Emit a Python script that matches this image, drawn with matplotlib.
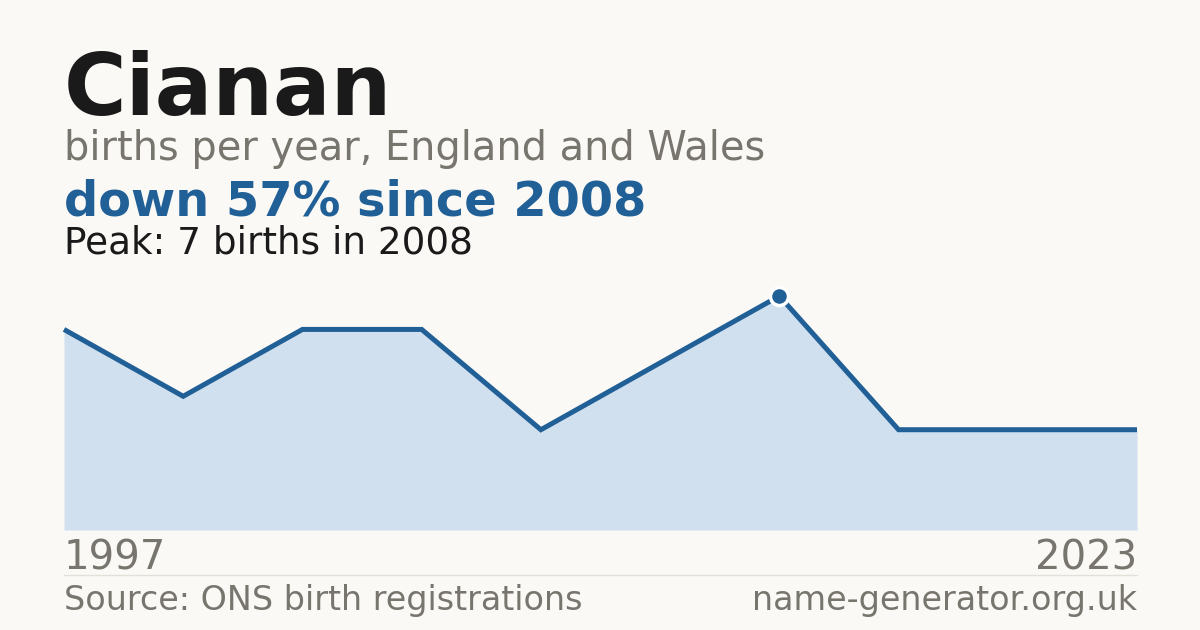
import matplotlib
matplotlib.use("Agg")
import matplotlib.pyplot as plt
from matplotlib.lines import Line2D

# Data (points evenly spaced along the axis)
years = [1997, 1999, 2001, 2003, 2005, 2007, 2008, 2012, 2018, 2023]
births = [6, 4, 6, 6, 3, 5, 7, 3, 3, 3]
name = "Cianan"
subtitle = "births per year, England and Wales"
headline = "down 57% since 2008"
peak_text = "Peak: 7 births in 2008"
source = "Source: ONS birth registrations"
site = "name-generator.org.uk"

BG = "#faf9f5"
BLUE = "#216097"
FILL = "#d0e0ef"
DARK = "#1a1a1a"
GRAY = "#78746e"

plt.rcParams['font.family'] = ['DejaVu Sans']

W, H = 1200, 630
fig = plt.figure(figsize=(12, 6.3), dpi=100, facecolor=BG)

def fy(py):
    return 1 - py / H

x = list(range(len(years)))
ax = fig.add_axes([64 / W, fy(530), (1137 - 64) / W, (530 - 296) / H])
ax.set_facecolor(BG)
ax.patch.set_alpha(0)
ax.fill_between(x, births, 0, color=FILL, lw=0)
ax.plot(x, births, color=BLUE, lw=3.6, solid_joinstyle='miter', solid_capstyle='butt', clip_on=False)
pk = births.index(max(births))
ax.plot([x[pk]], [births[pk]], 'o', ms=13, color=BLUE, mec='white', mew=2.5, clip_on=False, zorder=5)
ax.set_xlim(0, len(years) - 1)
ax.set_ylim(0, max(births))
ax.axis('off')

# Texts
fig.text(64 / W, fy(115), name, fontsize=61.5, fontweight='bold', color=DARK, va='baseline', ha='left')
fig.text(64 / W, fy(160), subtitle, fontsize=28.7, color=GRAY, va='baseline', ha='left')
fig.text(64 / W, fy(215), headline, fontsize=34.5, fontweight='bold', color=BLUE, va='baseline', ha='left')
fig.text(64 / W, fy(253), peak_text, fontsize=26.9, color=DARK, va='baseline', ha='left')

fig.text(64 / W, fy(570), str(years[0]), fontsize=28.9, color=GRAY, va='baseline', ha='left')
fig.text(1137 / W, fy(570), str(years[-1]), fontsize=28.9, color=GRAY, va='baseline', ha='right')

fig.add_artist(Line2D([64 / W, 1137 / W], [fy(574.5), fy(574.5)], color="#e3e0d9", lw=1, transform=fig.transFigure))

fig.text(64 / W, fy(610), source, fontsize=24, color=GRAY, va='baseline', ha='left')
fig.text(1137 / W, fy(610), site, fontsize=24, color=GRAY, va='baseline', ha='right')

fig.savefig("out.png", dpi=100, facecolor=BG)
